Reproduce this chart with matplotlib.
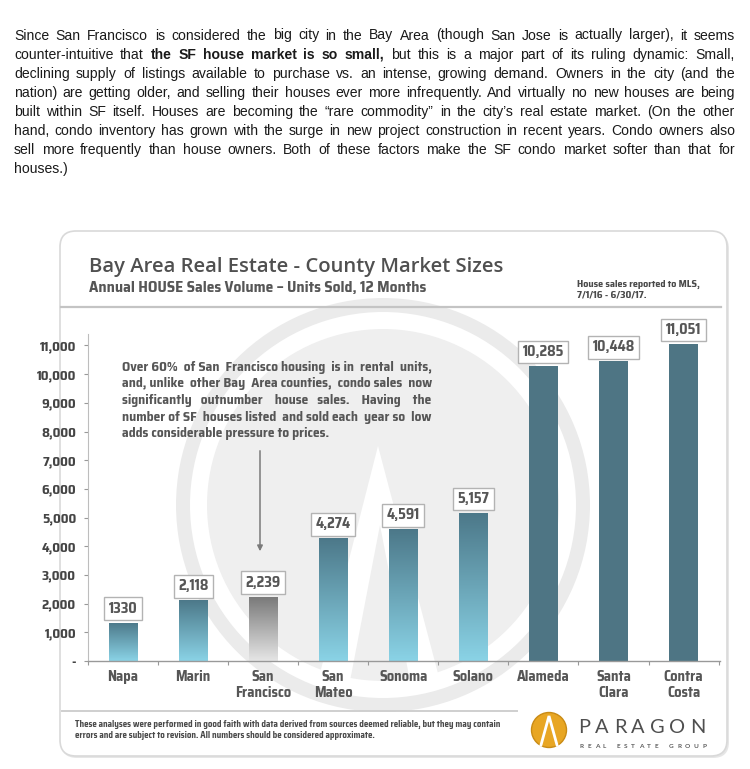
import os
import numpy as np
import matplotlib
matplotlib.use("Agg")
import matplotlib.pyplot as plt
from matplotlib import font_manager as fm
from matplotlib.textpath import TextPath
from matplotlib.patches import FancyBboxPatch, Circle, Polygon
from matplotlib.colors import LinearSegmentedColormap

# ---- data ----
counties = ["Napa", "Marin", "San\nFrancisco", "San\nMateo", "Sonoma", "Solano",
            "Alameda", "Santa\nClara", "Contra\nCosta"]
sales = [1330, 2118, 2239, 4274, 4591, 5157, 10285, 10448, 11051]
sales_labels = ["1330", "2,118", "2,239", "4,274", "4,591", "5,157", "10,285", "10,448", "11,051"]
bar_style = ["teal", "teal", "grey", "teal", "teal", "teal", "solid", "solid", "solid"]
yticks = list(range(0, 12000, 1000))

paragraph = [
    "Since San Francisco is considered the big city in the Bay Area (though San Jose is actually larger), it seems",
    "counter-intuitive that **the SF house market is so small**, but this is a major part of its ruling dynamic: Small,",
    "declining supply of listings available to purchase vs. an intense, growing demand. Owners in the city (and the",
    "nation) are getting older, and selling their houses ever more infrequently. And virtually no new houses are being",
    "built within SF itself. Houses are becoming the \u201crare commodity\u201d in the city\u2019s real estate market. (On the other",
    "hand, condo inventory has grown with the surge in new project construction in recent years. Condo owners also",
    "sell more frequently than house owners. Both of these factors make the SF condo market softer than that for",
    "houses.)",
]
note_lines = [
    "Over 60% of San Francisco housing is in rental units,",
    "and, unlike other Bay Area counties, condo sales now",
    "significantly outnumber house sales. Having the",
    "number of SF houses listed and sold each year so low",
    "adds considerable pressure to prices.",
]
title = "Bay Area Real Estate - County Market Sizes"
subtitle = "Annual HOUSE Sales Volume \u2013 Units Sold, 12 Months"
source = "House sales reported to MLS,\n7/1/16 - 6/30/17."
footer = ("These analyses were performed in good faith with data derived from sources deemed reliable, but they may contain\n"
          "errors and are subject to revision. All numbers should be considered approximate.")

GREY = "#565656"


def pt(px):
    return px * 0.72


# pick the bold condensed face whose width/cap-height ratio is closest to the reference lettering
def measure(fname):
    fp = fm.FontProperties(fname=fname, size=100)
    cap = TextPath((0, 0), "H", prop=fp).get_extents().height
    wid = TextPath((0, 0), subtitle, prop=fp).get_extents().width
    return cap / 100, wid / cap


cands = []
for f in fm.fontManager.ttflist:
    low = os.path.basename(f.fname).lower()
    if ("condensed" in low or "narrow" in low) and "bold" in low and not any(
            k in low for k in ("semibold", "extrabold", "italic", "oblique")) and f.fname not in cands:
        cands.append(f.fname)
COND_FILE, CAP = None, 0.71
best = 1e9
for f in cands:
    try:
        cap, ratio = measure(f)
    except Exception:
        continue
    if abs(ratio - 31.7) < best:
        best, COND_FILE, CAP = abs(ratio - 31.7), f, cap


def cond(cap_px):
    if COND_FILE:
        return fm.FontProperties(fname=COND_FILE, size=pt(cap_px / CAP))
    return fm.FontProperties(family="Roboto", weight="bold", size=pt(cap_px / 0.71 * 0.85))


fig = plt.figure(figsize=(7.5, 7.69), dpi=100)
bg = fig.add_axes([0, 0, 1, 1], zorder=0)
bg.set_xlim(0, 750); bg.set_ylim(769, 0); bg.axis("off")
renderer = fig.canvas.get_renderer()


def text_w(s, fp):
    return renderer.get_text_width_height_descent(s, fp, ismath=False)[0]


def place(tokens, x0, x1, y, style, justify=True, gap=4, **kw):
    arts, ws = [], []
    for s, wt in tokens:
        t = bg.text(x0, y, s, va="baseline", ha="left", **style(wt), **kw)
        arts.append(t); ws.append(t.get_window_extent(renderer).width)
    if justify and len(arts) > 1:
        gap = (x1 - x0 - sum(ws)) / (len(arts) - 1)
    x = x0
    for t, w in zip(arts, ws):
        t.set_x(x); x += w + gap


def space_justify(line, width, fp):
    # widen the gaps with whole spaces, spread evenly, so the line fills the column
    ws = line.split()
    sp = text_w("a a", fp) - text_w("aa", fp)
    extra = max(0, int(round((width - text_w(line, fp)) / sp)))
    n = len(ws) - 1
    out = ws[0]
    for i, w in enumerate(ws[1:]):
        g = 1 + (i + 1) * extra // n - i * extra // n
        out += " " * g + w
    return out


def spaced(s, x0, x1, y, **kw):
    arts, ws = [], []
    for c in s:
        t = bg.text(x0, y, c, va="baseline", ha="left", **kw) if c != " " else None
        arts.append(t); ws.append(t.get_window_extent(renderer).width if t else 0)
    units = (len(s) - 1) + s.count(" ")
    track = (x1 - x0 - sum(ws)) / units
    x = x0
    for t, w in zip(arts, ws):
        if t is None:
            x += track
        else:
            t.set_x(x)
        x += w + track


def words(line, weight="normal"):
    toks, bold = [], False
    for w in line.split():
        if w.startswith("**"):
            bold = True
            end = "**" in w[2:]
        else:
            end = "**" in w
        toks.append((w.replace("**", ""), "bold" if bold else weight))
        if end:
            bold = False
    return toks


# ---- paragraph above the chart ----
para_style = lambda wt: dict(fontsize=pt(14), fontweight=wt, family=["Liberation Sans", "DejaVu Sans"])
for i, line in enumerate(paragraph):
    place(words(line), 14, 735, 39.5 + 19.05 * i, para_style, justify=i < len(paragraph) - 1,
          color="#1a1a1a")

# ---- card ----
bg.add_patch(FancyBboxPatch((61, 233), 668, 525, boxstyle="round,pad=0,rounding_size=16",
                            fc="#e6e6e6", ec="none", zorder=0))
bg.add_patch(FancyBboxPatch((60, 231), 667, 525, boxstyle="round,pad=0,rounding_size=16",
                            fc="white", ec="#d9d9d9", lw=1.2, zorder=0.5))

# watermark
bg.add_patch(Circle((383, 505), 200, fill=False, ec="#ebebeb", lw=pt(14), zorder=1))
bg.add_patch(Circle((383, 505), 176, fc="#efefef", ec="none", zorder=1))
bg.add_patch(Polygon([(378, 446), (318, 681), (350, 681), (380, 525), (410, 681), (440, 681)],
                     closed=True, fc="white", ec="none", zorder=1.1))

# header
bg.text(89, 272, title, fontsize=pt(20.3), fontweight="semibold", family=["Open Sans", "DejaVu Sans"],
        color="#505050", va="baseline", zorder=3)
bg.text(89, 292, subtitle, fontproperties=cond(10.7), color=GREY, va="baseline", zorder=3)
bg.text(577, 289.5, source, fontproperties=cond(7.0), color="#4a4a4a", va="center",
        linespacing=1.2, zorder=3)
bg.plot([61, 721], [307, 307], color="#c4c4c4", lw=1.6, zorder=3)

# annotation + arrow
note_fp = cond(9.3)
for i, line in enumerate(note_lines):
    s = space_justify(line, 310, note_fp) if i < len(note_lines) - 1 else line
    bg.text(122, 371 + 16.5 * i, s, fontproperties=note_fp, color=GREY, va="baseline", zorder=3)
bg.annotate("", xy=(260, 554), xytext=(260, 448),
            arrowprops=dict(arrowstyle="-|>", color="#7a7a7a", lw=1.1, mutation_scale=8), zorder=3)

# footer
bg.plot([62, 517], [711, 711], color="#cfcfcf", lw=1.4, zorder=3)
bg.text(75, 730, footer, fontproperties=cond(6.1), color="#4a4a4a", va="center",
        linespacing=1.4, zorder=3)
bg.add_patch(Circle((549, 730), 17.5, fc="#e8a623", ec="#c98b15", lw=1, zorder=3))
bg.plot([541, 549, 557], [745, 716, 745], color="white", lw=2, zorder=4, solid_joinstyle="miter")
spaced("PARAGON", 578, 706, 733, fontsize=pt(20), family=["Lato", "DejaVu Sans"],
       color="#4f4f4f", zorder=3)
spaced("REAL ESTATE GROUP", 580, 706, 748, fontsize=pt(6.5), fontweight="bold",
       family=["Lato", "DejaVu Sans"], color="#5e5e5e", zorder=3)

# ---- chart axes ----
W, H = 750, 769
x_left, x_right, y_zero, y_top = 88, 720, 661, 334
ax = fig.add_axes([x_left / W, (H - y_zero) / H, (x_right - x_left) / W, (y_zero - y_top) / H], zorder=2)
ax.patch.set_visible(False)

x = np.arange(len(counties))
cmaps = {
    "teal": LinearSegmentedColormap.from_list("teal", ["#8ad3e6", "#4c7889"]),
    "grey": LinearSegmentedColormap.from_list("grey", ["#e6e6e6", "#787878"]),
}
grad = np.linspace(0, 1, 256).reshape(-1, 1)
bars = ax.bar(x, sales, width=0.41, color="#4e7584", zorder=2)
for b, style in zip(bars, bar_style):
    if style in cmaps:
        b.set_facecolor("none")
        im = ax.imshow(grad, extent=[b.get_x(), b.get_x() + b.get_width(), 0, b.get_height()],
                       origin="lower", aspect="auto", cmap=cmaps[style], zorder=2)
        im.set_clip_path(b)

for xi, v, lab in zip(x, sales, sales_labels):
    ax.annotate(lab, (xi, v), xytext=(0, pt(7)), textcoords="offset points", ha="center", va="bottom",
                fontproperties=cond(10), color=GREY, zorder=4,
                bbox=dict(boxstyle="square,pad=0.3", fc="white", ec="#b3b3b3", lw=1))

ax.set_xlim(-0.5, 8.52)
ax.set_ylim(0, 11400)
ax.set_yticks(yticks)
ax.set_yticklabels(["-" if t == 0 else f"{t:,}" for t in yticks], color="#444444")
ax.set_xticks(x)
ax.set_xticklabels(counties, color=GREY, linespacing=1.15)
for lab in ax.get_yticklabels():
    lab.set_fontproperties(cond(9.3))
for lab in ax.get_xticklabels():
    lab.set_fontproperties(cond(10))
ax.set_xticks(np.arange(-0.5, 9, 1), minor=True)
ax.tick_params(axis="x", which="major", length=0, pad=pt(9))
ax.tick_params(axis="x", which="minor", length=pt(4), color="#999999", width=0.8)
ax.tick_params(axis="y", length=pt(4), color="#999999", width=0.8, pad=pt(8))
for s in ("top", "right"):
    ax.spines[s].set_visible(False)
ax.spines["left"].set_color("#bdbdbd"); ax.spines["left"].set_linewidth(0.8)
ax.spines["bottom"].set_color("#999999"); ax.spines["bottom"].set_linewidth(1.0)

fig.savefig("out.png", dpi=100)
